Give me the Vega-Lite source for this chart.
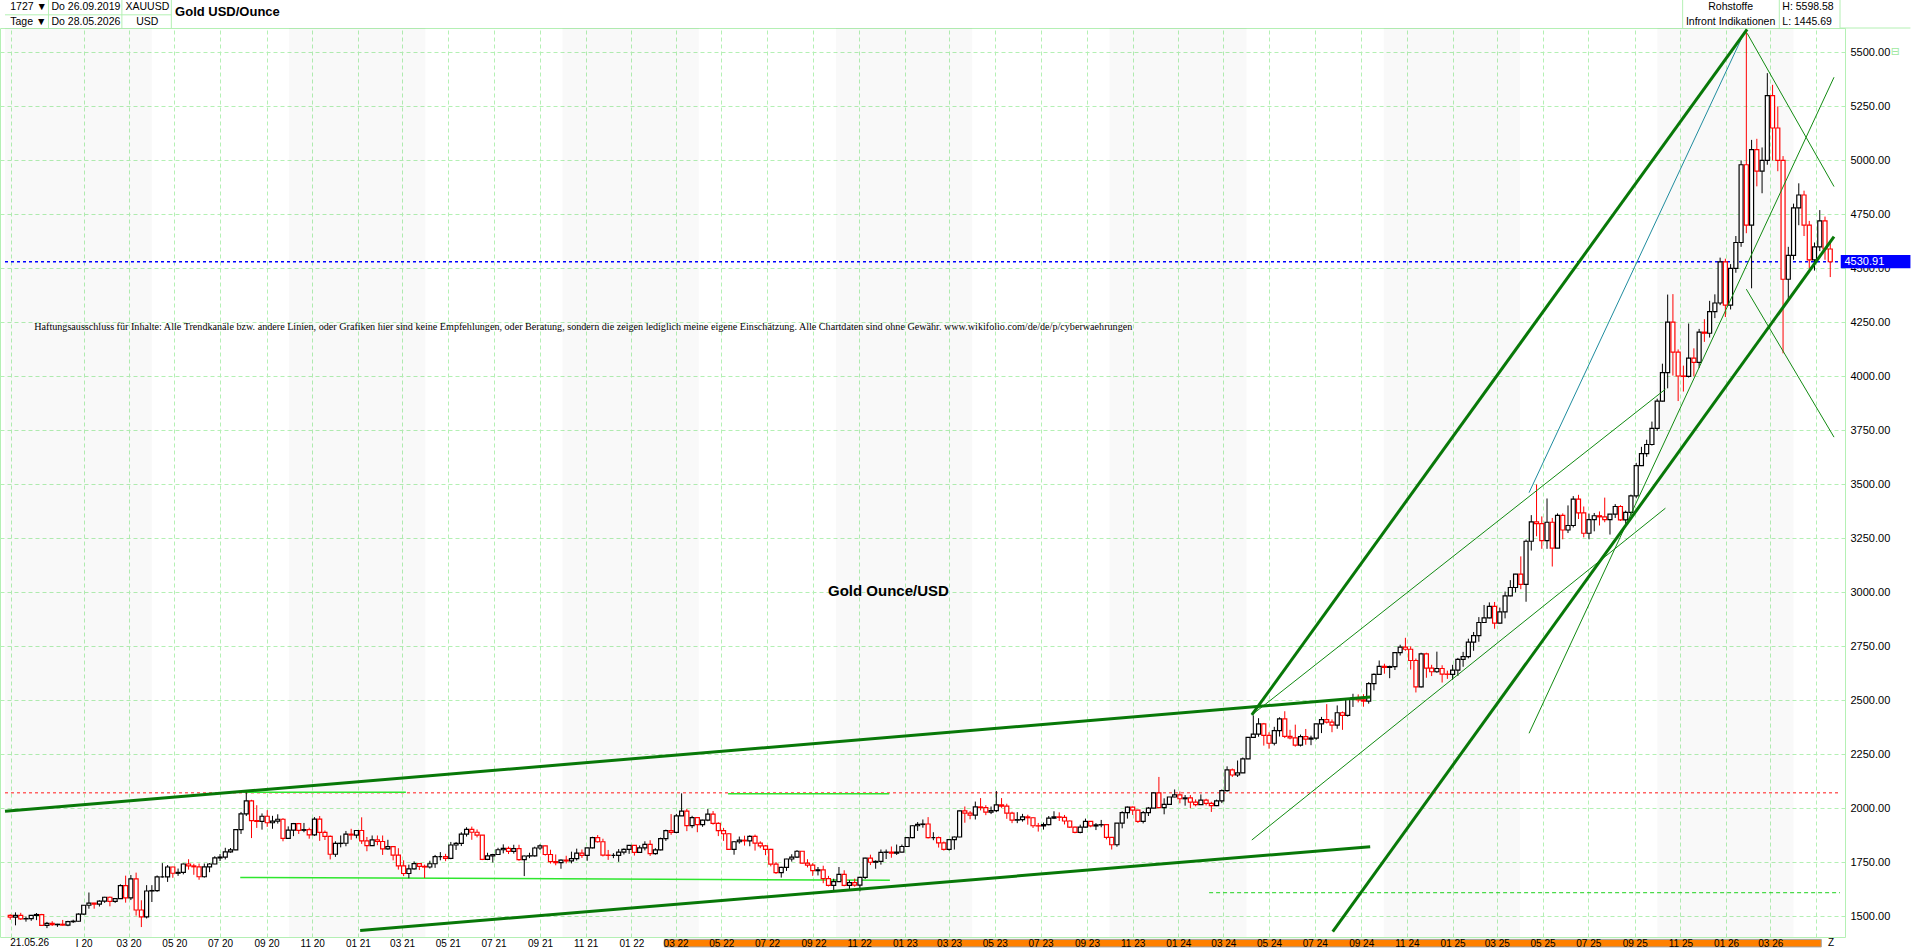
{
"$schema": "https://vega.github.io/schema/vega-lite/v6.json",
"width": 1845, "height": 909,
"autosize": {"type": "none"},
"padding": {"left": 0, "top": 28, "right": 71, "bottom": 11},
"background": "#ffffff",
"config": {"view": {"stroke": "#b4f0b4", "strokeWidth": 1}, "axis": {"labelFont": "Liberation Sans", "labelColor": "#000000"}},
"resolve": {"axis": {"x": "independent", "y": "independent"}},
"datasets": {
"bands": [
{"d":"2019-09-18","d2":"2020-04-01"},{"d":"2020-10-01","d2":"2021-04-01"},{"d":"2021-10-01","d2":"2022-04-01"},{"d":"2022-10-01","d2":"2023-04-01"},{"d":"2023-10-01","d2":"2024-04-01"},{"d":"2024-10-01","d2":"2025-04-01"},{"d":"2025-10-01","d2":"2026-04-01"}],
"strip": [{"d":"2022-02-14","d2":"2026-05-08","p":1394,"p2":1359}],
"box": [{"d":"2026-06-03","d2":"2026-09-04","p":4562,"p2":4501}],
"hr": [
{"d":"2019-11-15","d2":"2019-11-15","p":5743,"p2":5613},{"d":"2020-02-21","d2":"2020-02-21","p":5743,"p2":5613},{"d":"2020-04-27","d2":"2020-04-27","p":5743,"p2":5613},{"d":"2025-11-04","d2":"2025-11-04","p":5743,"p2":5613},{"d":"2026-03-13","d2":"2026-03-13","p":5743,"p2":5613},{"d":"2026-06-02","d2":"2026-06-02","p":5743,"p2":5613},{"d":"2019-09-18","d2":"2020-04-27","p":5674,"p2":5674},{"d":"2026-06-02","d2":"2026-09-04","p":5613,"p2":5613}],
"lines": [
{"g":"A","t":"thick","d":"2019-09-18","p":1987},{"g":"A","t":"thick","d":"2024-09-13","p":2516},
{"g":"B","t":"thick","d":"2021-01-04","p":1435},{"g":"B","t":"thick","d":"2024-09-13","p":1823},
{"g":"C","t":"thick","d":"2024-04-08","p":2433},{"g":"C","t":"thick","d":"2026-01-29","p":5607},
{"g":"H","t":"thick","d":"2024-07-25","p":1430},{"g":"H","t":"thick","d":"2026-05-25","p":4647},
{"g":"D","t":"teal","d":"2025-04-13","p":3462},{"g":"D","t":"teal","d":"2026-01-25","p":5590},
{"g":"E","t":"thin","d":"2024-04-08","p":2433},{"g":"E","t":"thin","d":"2025-10-12","p":3941},
{"g":"F","t":"thin","d":"2024-04-08","p":1854},{"g":"F","t":"thin","d":"2025-10-12","p":3390},
{"g":"G","t":"thin","d":"2025-04-13","p":2348},{"g":"G","t":"thin","d":"2026-05-25","p":5385},
{"g":"I","t":"thin","d":"2026-01-29","p":5589},{"g":"I","t":"thin","d":"2026-05-25","p":4879},
{"g":"J","t":"thin","d":"2026-01-28","p":4404},{"g":"J","t":"thin","d":"2026-05-25","p":3719},
{"g":"L1","t":"lime","d":"2020-08-01","p":2075},{"g":"L1","t":"lime","d":"2021-03-06","p":2075},
{"g":"L2","t":"lime","d":"2022-05-10","p":2068},{"g":"L2","t":"lime","d":"2022-12-11","p":2068},
{"g":"L3","t":"lime","d":"2020-07-28","p":1681},{"g":"L3","t":"lime","d":"2022-12-12","p":1668},
{"g":"R","t":"reddot","d":"2019-09-18","p":2073},{"g":"R","t":"reddot","d":"2026-06-02","p":2073},
{"g":"BL","t":"bluedot","d":"2019-09-18","p":4530.91},{"g":"BL","t":"bluedot","d":"2026-06-02","p":4530.91},
{"g":"LD","t":"limedash","d":"2024-02-11","p":1610},{"g":"LD","t":"limedash","d":"2026-06-02","p":1610}],
"notes": [
{"k":"hl","d":"2019-09-25","p":5712,"txt":"1727 ▼"},
{"k":"hl","d":"2019-09-25","p":5643,"txt":"Tage ▼"},
{"k":"hl","d":"2019-11-19","p":5712,"txt":"Do 26.09.2019"},
{"k":"hl","d":"2019-11-19","p":5643,"txt":"Do 28.05.2026"},
{"k":"hc","d":"2020-03-26","p":5712,"txt":"XAUUSD"},
{"k":"hc","d":"2020-03-26","p":5643,"txt":"USD"},
{"k":"ht","d":"2020-05-02","p":5689,"txt":"Gold USD/Ounce"},
{"k":"hc","d":"2026-01-07","p":5712,"txt":"Rohstoffe"},
{"k":"hc","d":"2026-01-07","p":5643,"txt":"Infront Indikationen"},
{"k":"hl","d":"2026-03-17","p":5712,"txt":"H: 5598.58"},
{"k":"hl","d":"2026-03-17","p":5643,"txt":"L: 1445.69"},
{"k":"disc","d":"2019-10-27","p":4227,"txt":"Haftungsausschluss für Inhalte: Alle Trendkanäle bzw. andere Linien, oder Grafiken hier sind keine Empfehlungen, oder Beratung, sondern die zeigen lediglich meine eigene Einschätzung. Alle Chartdaten sind ohne Gewähr.  www.wikifolio.com/de/de/p/cyberwaehrungen"},
{"k":"big","d":"2022-12-10","p":3005,"txt":"Gold Ounce/USD"},
{"k":"ax","d":"2019-10-21","p":1377,"txt":"21.05.26"},
{"k":"ax","d":"2026-05-21","p":1377,"txt":"Z"},
{"k":"icon","d":"2026-08-15","p":5502,"txt":"⊟"},
{"k":"blue","d":"2026-06-08","p":4531,"txt":"4530.91"}],
"candles": [
{"d":"2019-09-25","o":1505,"h":1510,"l":1485,"c":1497},{"d":"2019-10-02","o":1497,"h":1519,"l":1459,"c":1505},{"d":"2019-10-09","o":1505,"h":1517,"l":1484,"c":1489},{"d":"2019-10-16","o":1489,"h":1500,"l":1476,"c":1490},{"d":"2019-10-23","o":1490,"h":1507,"l":1480,"c":1505},{"d":"2019-10-30","o":1505,"h":1516,"l":1483,"c":1509},{"d":"2019-11-06","o":1509,"h":1512,"l":1456,"c":1459},{"d":"2019-11-13","o":1459,"h":1475,"l":1446,"c":1468},{"d":"2019-11-20","o":1468,"h":1478,"l":1456,"c":1462},{"d":"2019-11-27","o":1462,"h":1466,"l":1452,"c":1464},{"d":"2019-12-04","o":1464,"h":1484,"l":1458,"c":1460},{"d":"2019-12-11","o":1460,"h":1480,"l":1455,"c":1476},{"d":"2019-12-18","o":1476,"h":1485,"l":1470,"c":1478},{"d":"2019-12-25","o":1478,"h":1515,"l":1477,"c":1511},
{"d":"2020-01-01","o":1511,"h":1553,"l":1508,"c":1552},{"d":"2020-01-08","o":1552,"h":1611,"l":1536,"c":1562},{"d":"2020-01-15","o":1562,"h":1563,"l":1536,"c":1557},{"d":"2020-01-22","o":1557,"h":1575,"l":1546,"c":1571},{"d":"2020-01-29","o":1571,"h":1591,"l":1563,"c":1589},{"d":"2020-02-05","o":1589,"h":1592,"l":1547,"c":1570},{"d":"2020-02-12","o":1570,"h":1583,"l":1563,"c":1583},{"d":"2020-02-19","o":1583,"h":1649,"l":1581,"c":1643},{"d":"2020-02-26","o":1643,"h":1689,"l":1564,"c":1586},{"d":"2020-03-04","o":1586,"h":1692,"l":1576,"c":1674},{"d":"2020-03-11","o":1674,"h":1703,"l":1504,"c":1530},{"d":"2020-03-18","o":1530,"h":1575,"l":1451,"c":1498},{"d":"2020-03-25","o":1498,"h":1645,"l":1491,"c":1618},{"d":"2020-04-01","o":1618,"h":1645,"l":1567,"c":1620},{"d":"2020-04-08","o":1620,"h":1690,"l":1614,"c":1683},{"d":"2020-04-15","o":1683,"h":1747,"l":1680,"c":1683},{"d":"2020-04-22","o":1683,"h":1738,"l":1660,"c":1729},{"d":"2020-04-29","o":1729,"h":1730,"l":1679,"c":1700},{"d":"2020-05-06","o":1700,"h":1722,"l":1688,"c":1704},{"d":"2020-05-13","o":1704,"h":1745,"l":1695,"c":1743},{"d":"2020-05-20","o":1743,"h":1765,"l":1717,"c":1734},{"d":"2020-05-27","o":1734,"h":1744,"l":1693,"c":1730},{"d":"2020-06-03","o":1730,"h":1745,"l":1670,"c":1684},{"d":"2020-06-10","o":1684,"h":1745,"l":1680,"c":1730},{"d":"2020-06-17","o":1730,"h":1747,"l":1705,"c":1743},{"d":"2020-06-24","o":1743,"h":1779,"l":1742,"c":1771},{"d":"2020-07-01","o":1771,"h":1789,"l":1757,"c":1775},{"d":"2020-07-08","o":1775,"h":1818,"l":1764,"c":1799},{"d":"2020-07-15","o":1799,"h":1817,"l":1795,"c":1808},{"d":"2020-07-22","o":1808,"h":1904,"l":1807,"c":1902},{"d":"2020-07-29","o":1902,"h":1984,"l":1882,"c":1975},{"d":"2020-08-05","o":1975,"h":2075,"l":1965,"c":2035},{"d":"2020-08-12","o":2035,"h":2040,"l":1863,"c":1944},{"d":"2020-08-19","o":1944,"h":2015,"l":1910,"c":1940},{"d":"2020-08-26","o":1940,"h":1977,"l":1902,"c":1964},{"d":"2020-09-02","o":1964,"h":1992,"l":1915,"c":1934},{"d":"2020-09-09","o":1934,"h":1966,"l":1906,"c":1941},{"d":"2020-09-16","o":1941,"h":1973,"l":1930,"c":1950},{"d":"2020-09-23","o":1950,"h":1955,"l":1848,"c":1862},{"d":"2020-09-30","o":1862,"h":1917,"l":1860,"c":1900},{"d":"2020-10-07","o":1900,"h":1933,"l":1872,"c":1930},{"d":"2020-10-14","o":1930,"h":1933,"l":1882,"c":1899},{"d":"2020-10-21","o":1899,"h":1933,"l":1890,"c":1902},{"d":"2020-10-28","o":1902,"h":1911,"l":1860,"c":1878},{"d":"2020-11-04","o":1878,"h":1960,"l":1873,"c":1951},{"d":"2020-11-11","o":1951,"h":1965,"l":1850,"c":1889},{"d":"2020-11-18","o":1889,"h":1898,"l":1854,"c":1871},{"d":"2020-11-25","o":1871,"h":1875,"l":1764,"c":1788},{"d":"2020-12-02","o":1788,"h":1848,"l":1776,"c":1838},{"d":"2020-12-09","o":1838,"h":1875,"l":1820,"c":1839},{"d":"2020-12-16","o":1839,"h":1896,"l":1825,"c":1881},{"d":"2020-12-23","o":1881,"h":1906,"l":1855,"c":1877},{"d":"2020-12-30","o":1877,"h":1900,"l":1862,"c":1898},
{"d":"2021-01-06","o":1898,"h":1959,"l":1836,"c":1850},{"d":"2021-01-13","o":1850,"h":1868,"l":1802,"c":1828},{"d":"2021-01-20","o":1828,"h":1875,"l":1826,"c":1855},{"d":"2021-01-27","o":1855,"h":1875,"l":1830,"c":1847},{"d":"2021-02-03","o":1847,"h":1875,"l":1785,"c":1813},{"d":"2021-02-10","o":1813,"h":1855,"l":1809,"c":1823},{"d":"2021-02-17","o":1823,"h":1825,"l":1760,"c":1784},{"d":"2021-02-24","o":1784,"h":1816,"l":1717,"c":1734},{"d":"2021-03-03","o":1734,"h":1760,"l":1687,"c":1699},{"d":"2021-03-10","o":1699,"h":1740,"l":1677,"c":1720},{"d":"2021-03-17","o":1720,"h":1755,"l":1717,"c":1745},{"d":"2021-03-24","o":1745,"h":1745,"l":1715,"c":1732},{"d":"2021-03-31","o":1732,"h":1740,"l":1678,"c":1729},{"d":"2021-04-07","o":1729,"h":1758,"l":1722,"c":1744},{"d":"2021-04-14","o":1744,"h":1785,"l":1725,"c":1777},{"d":"2021-04-21","o":1777,"h":1798,"l":1760,"c":1777},{"d":"2021-04-28","o":1777,"h":1790,"l":1756,"c":1769},{"d":"2021-05-05","o":1769,"h":1845,"l":1765,"c":1831},{"d":"2021-05-12","o":1831,"h":1845,"l":1808,"c":1838},{"d":"2021-05-19","o":1838,"h":1890,"l":1826,"c":1881},{"d":"2021-05-26","o":1881,"h":1913,"l":1870,"c":1903},{"d":"2021-06-02","o":1903,"h":1916,"l":1855,"c":1890},{"d":"2021-06-09","o":1890,"h":1903,"l":1866,"c":1877},{"d":"2021-06-16","o":1877,"h":1877,"l":1761,"c":1764},{"d":"2021-06-23","o":1764,"h":1795,"l":1761,"c":1781},{"d":"2021-06-30","o":1781,"h":1790,"l":1750,"c":1787},{"d":"2021-07-07","o":1787,"h":1818,"l":1785,"c":1809},{"d":"2021-07-14","o":1809,"h":1834,"l":1792,"c":1815},{"d":"2021-07-21","o":1815,"h":1824,"l":1789,"c":1801},{"d":"2021-07-28","o":1801,"h":1832,"l":1791,"c":1814},{"d":"2021-08-04","o":1814,"h":1832,"l":1758,"c":1763},{"d":"2021-08-11","o":1763,"h":1782,"l":1687,"c":1780},{"d":"2021-08-18","o":1780,"h":1795,"l":1770,"c":1781},{"d":"2021-08-25","o":1781,"h":1823,"l":1777,"c":1817},{"d":"2021-09-01","o":1817,"h":1834,"l":1808,"c":1827},{"d":"2021-09-08","o":1827,"h":1828,"l":1782,"c":1787},{"d":"2021-09-15","o":1787,"h":1809,"l":1745,"c":1754},{"d":"2021-09-22","o":1754,"h":1787,"l":1737,"c":1749},{"d":"2021-09-29","o":1749,"h":1764,"l":1721,"c":1761},{"d":"2021-10-06","o":1761,"h":1781,"l":1746,"c":1757},{"d":"2021-10-13","o":1757,"h":1800,"l":1746,"c":1768},{"d":"2021-10-20","o":1768,"h":1814,"l":1759,"c":1793},{"d":"2021-10-27","o":1793,"h":1810,"l":1771,"c":1783},{"d":"2021-11-03","o":1783,"h":1818,"l":1758,"c":1818},{"d":"2021-11-10","o":1818,"h":1869,"l":1815,"c":1865},{"d":"2021-11-17","o":1865,"h":1877,"l":1842,"c":1846},{"d":"2021-11-24","o":1846,"h":1860,"l":1778,"c":1784},{"d":"2021-12-01","o":1784,"h":1808,"l":1762,"c":1783},{"d":"2021-12-08","o":1783,"h":1793,"l":1770,"c":1783},{"d":"2021-12-15","o":1783,"h":1812,"l":1753,"c":1798},{"d":"2021-12-22","o":1798,"h":1815,"l":1787,"c":1811},{"d":"2021-12-29","o":1811,"h":1831,"l":1790,"c":1829},
{"d":"2022-01-05","o":1829,"h":1831,"l":1782,"c":1797},{"d":"2022-01-12","o":1797,"h":1829,"l":1795,"c":1818},{"d":"2022-01-19","o":1818,"h":1848,"l":1806,"c":1834},{"d":"2022-01-26","o":1834,"h":1853,"l":1780,"c":1791},{"d":"2022-02-02","o":1791,"h":1816,"l":1786,"c":1808},{"d":"2022-02-09","o":1808,"h":1865,"l":1806,"c":1860},{"d":"2022-02-16","o":1860,"h":1902,"l":1850,"c":1897},{"d":"2022-02-23","o":1897,"h":1974,"l":1878,"c":1889},{"d":"2022-03-02","o":1889,"h":1975,"l":1885,"c":1966},{"d":"2022-03-09","o":1966,"h":2070,"l":1965,"c":1988},{"d":"2022-03-16","o":1988,"h":1998,"l":1895,"c":1921},{"d":"2022-03-23","o":1921,"h":1966,"l":1909,"c":1958},{"d":"2022-03-30","o":1958,"h":1960,"l":1890,"c":1925},{"d":"2022-04-06","o":1925,"h":1948,"l":1915,"c":1946},{"d":"2022-04-13","o":1946,"h":1998,"l":1941,"c":1974},{"d":"2022-04-20","o":1974,"h":1988,"l":1925,"c":1931},{"d":"2022-04-27","o":1931,"h":1936,"l":1872,"c":1897},{"d":"2022-05-04","o":1897,"h":1910,"l":1850,"c":1883},{"d":"2022-05-11","o":1883,"h":1885,"l":1808,"c":1811},{"d":"2022-05-18","o":1811,"h":1849,"l":1786,"c":1846},{"d":"2022-05-25","o":1846,"h":1870,"l":1837,"c":1853},{"d":"2022-06-01","o":1853,"h":1874,"l":1828,"c":1850},{"d":"2022-06-08","o":1850,"h":1876,"l":1825,"c":1871},{"d":"2022-06-15","o":1871,"h":1879,"l":1805,"c":1840},{"d":"2022-06-22","o":1840,"h":1848,"l":1816,"c":1827},{"d":"2022-06-29","o":1827,"h":1831,"l":1784,"c":1811},{"d":"2022-07-06","o":1811,"h":1813,"l":1732,"c":1742},{"d":"2022-07-13","o":1742,"h":1752,"l":1697,"c":1703},{"d":"2022-07-20","o":1703,"h":1730,"l":1680,"c":1727},{"d":"2022-07-27","o":1727,"h":1767,"l":1711,"c":1766},{"d":"2022-08-03","o":1766,"h":1788,"l":1754,"c":1775},{"d":"2022-08-10","o":1775,"h":1807,"l":1771,"c":1802},{"d":"2022-08-17","o":1802,"h":1802,"l":1745,"c":1747},{"d":"2022-08-24","o":1747,"h":1765,"l":1727,"c":1738},{"d":"2022-08-31","o":1738,"h":1747,"l":1688,"c":1712},{"d":"2022-09-07","o":1712,"h":1729,"l":1690,"c":1716},{"d":"2022-09-14","o":1716,"h":1735,"l":1654,"c":1675},{"d":"2022-09-21","o":1675,"h":1688,"l":1639,"c":1644},{"d":"2022-09-28","o":1644,"h":1675,"l":1615,"c":1661},{"d":"2022-10-05","o":1661,"h":1729,"l":1660,"c":1695},{"d":"2022-10-12","o":1695,"h":1714,"l":1640,"c":1644},{"d":"2022-10-19","o":1644,"h":1668,"l":1618,"c":1657},{"d":"2022-10-26","o":1657,"h":1675,"l":1638,"c":1645},{"d":"2022-11-02","o":1645,"h":1684,"l":1616,"c":1681},{"d":"2022-11-09","o":1681,"h":1772,"l":1673,"c":1770},{"d":"2022-11-16","o":1770,"h":1786,"l":1738,"c":1751},{"d":"2022-11-23","o":1751,"h":1760,"l":1721,"c":1755},{"d":"2022-11-30","o":1755,"h":1810,"l":1740,"c":1797},{"d":"2022-12-07","o":1797,"h":1810,"l":1766,"c":1798},{"d":"2022-12-14","o":1798,"h":1824,"l":1772,"c":1793},{"d":"2022-12-21","o":1793,"h":1833,"l":1785,"c":1798},{"d":"2022-12-28","o":1798,"h":1833,"l":1797,"c":1824},
{"d":"2023-01-04","o":1824,"h":1868,"l":1822,"c":1865},{"d":"2023-01-11","o":1865,"h":1922,"l":1862,"c":1920},{"d":"2023-01-18","o":1920,"h":1937,"l":1896,"c":1926},{"d":"2023-01-25","o":1926,"h":1949,"l":1911,"c":1928},{"d":"2023-02-01","o":1928,"h":1960,"l":1861,"c":1865},{"d":"2023-02-08","o":1865,"h":1890,"l":1853,"c":1865},{"d":"2023-02-15","o":1865,"h":1870,"l":1819,"c":1841},{"d":"2023-02-22","o":1841,"h":1847,"l":1805,"c":1811},{"d":"2023-03-01","o":1811,"h":1858,"l":1805,"c":1856},{"d":"2023-03-08","o":1856,"h":1870,"l":1810,"c":1868},{"d":"2023-03-15","o":1868,"h":1990,"l":1867,"c":1989},{"d":"2023-03-22","o":1989,"h":2009,"l":1934,"c":1978},{"d":"2023-03-29","o":1978,"h":1988,"l":1950,"c":1969},{"d":"2023-04-05","o":1969,"h":2032,"l":1949,"c":2007},{"d":"2023-04-12","o":2007,"h":2048,"l":1991,"c":2004},{"d":"2023-04-19","o":2004,"h":2015,"l":1969,"c":1983},{"d":"2023-04-26","o":1983,"h":2009,"l":1974,"c":1990},{"d":"2023-05-03","o":1990,"h":2081,"l":1983,"c":2017},{"d":"2023-05-10","o":2017,"h":2048,"l":2003,"c":2011},{"d":"2023-05-17","o":2011,"h":2022,"l":1952,"c":1978},{"d":"2023-05-24","o":1978,"h":1985,"l":1932,"c":1946},{"d":"2023-05-31","o":1946,"h":1983,"l":1932,"c":1948},{"d":"2023-06-07","o":1948,"h":1975,"l":1939,"c":1961},{"d":"2023-06-14","o":1961,"h":1971,"l":1925,"c":1957},{"d":"2023-06-21","o":1957,"h":1959,"l":1910,"c":1920},{"d":"2023-06-28","o":1920,"h":1933,"l":1893,"c":1919},{"d":"2023-07-05","o":1919,"h":1935,"l":1902,"c":1925},{"d":"2023-07-12","o":1925,"h":1965,"l":1922,"c":1955},{"d":"2023-07-19","o":1955,"h":1987,"l":1951,"c":1961},{"d":"2023-07-26","o":1961,"h":1982,"l":1942,"c":1959},{"d":"2023-08-02","o":1959,"h":1970,"l":1926,"c":1942},{"d":"2023-08-09","o":1942,"h":1944,"l":1910,"c":1914},{"d":"2023-08-16","o":1914,"h":1916,"l":1885,"c":1889},{"d":"2023-08-23","o":1889,"h":1925,"l":1885,"c":1914},{"d":"2023-08-30","o":1914,"h":1953,"l":1912,"c":1940},{"d":"2023-09-06","o":1940,"h":1942,"l":1913,"c":1919},{"d":"2023-09-13","o":1919,"h":1932,"l":1900,"c":1924},{"d":"2023-09-20","o":1924,"h":1947,"l":1913,"c":1925},{"d":"2023-09-27","o":1925,"h":1927,"l":1857,"c":1866},{"d":"2023-10-04","o":1866,"h":1866,"l":1810,"c":1832},{"d":"2023-10-11","o":1832,"h":1932,"l":1823,"c":1932},{"d":"2023-10-18","o":1932,"h":1987,"l":1908,"c":1981},{"d":"2023-10-25","o":1981,"h":2009,"l":1953,"c":2006},{"d":"2023-11-01","o":2006,"h":2009,"l":1970,"c":1992},{"d":"2023-11-08","o":1992,"h":1994,"l":1933,"c":1940},{"d":"2023-11-15","o":1940,"h":1988,"l":1931,"c":1981},{"d":"2023-11-22","o":1981,"h":2007,"l":1965,"c":2002},{"d":"2023-11-29","o":2002,"h":2075,"l":2001,"c":2072},{"d":"2023-12-06","o":2072,"h":2146,"l":2010,"c":2004},{"d":"2023-12-13","o":2004,"h":2047,"l":1973,"c":2019},{"d":"2023-12-20","o":2019,"h":2047,"l":2016,"c":2053},{"d":"2023-12-27","o":2053,"h":2088,"l":2052,"c":2063},
{"d":"2024-01-03","o":2063,"h":2078,"l":2024,"c":2045},{"d":"2024-01-10","o":2045,"h":2062,"l":2013,"c":2049},{"d":"2024-01-17","o":2049,"h":2062,"l":2001,"c":2029},{"d":"2024-01-24","o":2029,"h":2042,"l":2010,"c":2018},{"d":"2024-01-31","o":2018,"h":2065,"l":2016,"c":2039},{"d":"2024-02-07","o":2039,"h":2045,"l":2014,"c":2024},{"d":"2024-02-14","o":2024,"h":2031,"l":1984,"c":2013},{"d":"2024-02-21","o":2013,"h":2041,"l":2011,"c":2035},{"d":"2024-02-28","o":2035,"h":2088,"l":2025,"c":2083},{"d":"2024-03-06","o":2083,"h":2195,"l":2078,"c":2179},{"d":"2024-03-13","o":2179,"h":2185,"l":2146,"c":2155},{"d":"2024-03-20","o":2155,"h":2222,"l":2146,"c":2165},{"d":"2024-03-27","o":2165,"h":2236,"l":2164,"c":2230},{"d":"2024-04-03","o":2230,"h":2330,"l":2228,"c":2329},{"d":"2024-04-10","o":2329,"h":2431,"l":2326,"c":2344},{"d":"2024-04-17","o":2344,"h":2418,"l":2332,"c":2392},{"d":"2024-04-24","o":2392,"h":2396,"l":2291,"c":2338},{"d":"2024-05-01","o":2338,"h":2353,"l":2277,"c":2302},{"d":"2024-05-08","o":2302,"h":2378,"l":2292,"c":2360},{"d":"2024-05-15","o":2360,"h":2422,"l":2333,"c":2415},{"d":"2024-05-22","o":2415,"h":2450,"l":2326,"c":2334},{"d":"2024-05-29","o":2334,"h":2364,"l":2320,"c":2327},{"d":"2024-06-05","o":2327,"h":2388,"l":2286,"c":2293},{"d":"2024-06-12","o":2293,"h":2342,"l":2287,"c":2333},{"d":"2024-06-19","o":2333,"h":2368,"l":2295,"c":2321},{"d":"2024-06-26","o":2321,"h":2337,"l":2293,"c":2326},{"d":"2024-07-03","o":2326,"h":2393,"l":2318,"c":2392},{"d":"2024-07-10","o":2392,"h":2424,"l":2349,"c":2411},{"d":"2024-07-17","o":2411,"h":2483,"l":2393,"c":2400},{"d":"2024-07-24","o":2400,"h":2412,"l":2353,"c":2386},{"d":"2024-07-31","o":2386,"h":2477,"l":2369,"c":2443},{"d":"2024-08-07","o":2443,"h":2449,"l":2364,"c":2431},{"d":"2024-08-14","o":2431,"h":2509,"l":2425,"c":2507},{"d":"2024-08-21","o":2507,"h":2531,"l":2470,"c":2512},{"d":"2024-08-28","o":2512,"h":2528,"l":2491,"c":2503},{"d":"2024-09-04","o":2503,"h":2529,"l":2471,"c":2497},{"d":"2024-09-11","o":2497,"h":2585,"l":2485,"c":2578},{"d":"2024-09-18","o":2578,"h":2625,"l":2547,"c":2621},{"d":"2024-09-25","o":2621,"h":2685,"l":2618,"c":2658},{"d":"2024-10-02","o":2658,"h":2670,"l":2624,"c":2653},{"d":"2024-10-09","o":2653,"h":2661,"l":2603,"c":2657},{"d":"2024-10-16","o":2657,"h":2722,"l":2641,"c":2721},{"d":"2024-10-23","o":2721,"h":2758,"l":2708,"c":2747},{"d":"2024-10-30","o":2747,"h":2790,"l":2730,"c":2737},{"d":"2024-11-06","o":2737,"h":2750,"l":2643,"c":2685},{"d":"2024-11-13","o":2685,"h":2694,"l":2537,"c":2563},{"d":"2024-11-20","o":2563,"h":2721,"l":2560,"c":2716},{"d":"2024-11-27","o":2716,"h":2721,"l":2605,"c":2650},{"d":"2024-12-04","o":2650,"h":2665,"l":2613,"c":2633},{"d":"2024-12-11","o":2633,"h":2726,"l":2628,"c":2648},{"d":"2024-12-18","o":2648,"h":2663,"l":2583,"c":2622},{"d":"2024-12-25","o":2622,"h":2638,"l":2600,"c":2621},
{"d":"2025-01-01","o":2621,"h":2665,"l":2596,"c":2640},{"d":"2025-01-08","o":2640,"h":2697,"l":2614,"c":2690},{"d":"2025-01-15","o":2690,"h":2725,"l":2656,"c":2703},{"d":"2025-01-22","o":2703,"h":2786,"l":2695,"c":2770},{"d":"2025-01-29","o":2770,"h":2817,"l":2730,"c":2800},{"d":"2025-02-05","o":2800,"h":2886,"l":2772,"c":2861},{"d":"2025-02-12","o":2861,"h":2942,"l":2860,"c":2882},{"d":"2025-02-19","o":2882,"h":2954,"l":2880,"c":2936},{"d":"2025-02-26","o":2936,"h":2956,"l":2832,"c":2858},{"d":"2025-03-05","o":2858,"h":2930,"l":2856,"c":2910},{"d":"2025-03-12","o":2910,"h":3004,"l":2880,"c":2984},{"d":"2025-03-19","o":2984,"h":3057,"l":2982,"c":3023},{"d":"2025-03-26","o":3023,"h":3086,"l":3000,"c":3085},{"d":"2025-04-02","o":3085,"h":3167,"l":3015,"c":3037},{"d":"2025-04-09","o":3037,"h":3245,"l":2957,"c":3237},{"d":"2025-04-16","o":3237,"h":3358,"l":3194,"c":3327},{"d":"2025-04-23","o":3327,"h":3500,"l":3260,"c":3319},{"d":"2025-04-30","o":3319,"h":3352,"l":3202,"c":3240},{"d":"2025-05-07","o":3240,"h":3435,"l":3202,"c":3325},{"d":"2025-05-14","o":3325,"h":3345,"l":3120,"c":3205},{"d":"2025-05-21","o":3205,"h":3366,"l":3205,"c":3357},{"d":"2025-05-28","o":3357,"h":3366,"l":3246,"c":3289},{"d":"2025-06-04","o":3289,"h":3403,"l":3275,"c":3310},{"d":"2025-06-11","o":3310,"h":3446,"l":3301,"c":3432},{"d":"2025-06-18","o":3432,"h":3452,"l":3340,"c":3368},{"d":"2025-06-25","o":3368,"h":3398,"l":3255,"c":3274},{"d":"2025-07-02","o":3274,"h":3365,"l":3246,"c":3337},{"d":"2025-07-09","o":3337,"h":3368,"l":3283,"c":3355},{"d":"2025-07-16","o":3355,"h":3375,"l":3310,"c":3350},{"d":"2025-07-23","o":3350,"h":3439,"l":3325,"c":3337},{"d":"2025-07-30","o":3337,"h":3363,"l":3268,"c":3363},{"d":"2025-08-06","o":3363,"h":3409,"l":3345,"c":3398},{"d":"2025-08-13","o":3398,"h":3404,"l":3331,"c":3336},{"d":"2025-08-20","o":3336,"h":3379,"l":3311,"c":3371},{"d":"2025-08-27","o":3371,"h":3453,"l":3356,"c":3447},{"d":"2025-09-03","o":3447,"h":3600,"l":3436,"c":3587},{"d":"2025-09-10","o":3587,"h":3674,"l":3585,"c":3643},{"d":"2025-09-17","o":3643,"h":3707,"l":3628,"c":3685},{"d":"2025-09-24","o":3685,"h":3791,"l":3680,"c":3760},{"d":"2025-10-01","o":3760,"h":3897,"l":3748,"c":3886},{"d":"2025-10-08","o":3886,"h":4059,"l":3884,"c":4018},{"d":"2025-10-15","o":4018,"h":4379,"l":3945,"c":4251},{"d":"2025-10-22","o":4251,"h":4381,"l":4004,"c":4113},{"d":"2025-10-29","o":4113,"h":4125,"l":3886,"c":4002},{"d":"2025-11-05","o":4002,"h":4050,"l":3930,"c":4000},{"d":"2025-11-12","o":4000,"h":4245,"l":3995,"c":4085},{"d":"2025-11-19","o":4085,"h":4130,"l":4000,"c":4065},{"d":"2025-11-26","o":4065,"h":4220,"l":4040,"c":4205},{"d":"2025-12-03","o":4205,"h":4265,"l":4160,"c":4200},{"d":"2025-12-10","o":4200,"h":4350,"l":4180,"c":4300},{"d":"2025-12-17","o":4300,"h":4380,"l":4270,"c":4340},{"d":"2025-12-24","o":4340,"h":4550,"l":4330,"c":4530},{"d":"2025-12-31","o":4530,"h":4545,"l":4275,"c":4330},
{"d":"2026-01-07","o":4330,"h":4520,"l":4310,"c":4500},{"d":"2026-01-14","o":4500,"h":4650,"l":4480,"c":4620},{"d":"2026-01-21","o":4620,"h":5000,"l":4600,"c":4980},{"d":"2026-01-28","o":4980,"h":5598,"l":4663,"c":4700},{"d":"2026-02-04","o":4700,"h":5095,"l":4408,"c":5050},{"d":"2026-02-11","o":5050,"h":5100,"l":4880,"c":4950},{"d":"2026-02-18","o":4950,"h":5060,"l":4848,"c":5000},{"d":"2026-02-25","o":5000,"h":5404,"l":4980,"c":5300},{"d":"2026-03-04","o":5300,"h":5350,"l":5000,"c":5150},{"d":"2026-03-11","o":5150,"h":5250,"l":4950,"c":5000},{"d":"2026-03-18","o":5000,"h":5020,"l":4107,"c":4450},{"d":"2026-03-25","o":4450,"h":4600,"l":4350,"c":4560},{"d":"2026-04-01","o":4560,"h":4800,"l":4540,"c":4780},{"d":"2026-04-08","o":4780,"h":4894,"l":4700,"c":4840},{"d":"2026-04-15","o":4840,"h":4860,"l":4650,"c":4700},{"d":"2026-04-22","o":4700,"h":4720,"l":4500,"c":4540},{"d":"2026-04-29","o":4540,"h":4620,"l":4490,"c":4600},{"d":"2026-05-06","o":4600,"h":4770,"l":4580,"c":4720},{"d":"2026-05-13","o":4720,"h":4740,"l":4540,"c":4590},{"d":"2026-05-20","o":4590,"h":4620,"l":4460,"c":4531}]
},
"layer": [
{"data": {"name": "bands"}, "mark": {"type": "rect", "fill": "#000000", "opacity": 0.022},
 "encoding": {"x": {"field": "d", "type": "temporal", "scale": {"type": "utc", "domain": [{"year":2019,"month":9,"date":18,"utc":true},{"year":2026,"month":6,"date":2,"utc":true}]},
   "axis": {"orient": "bottom", "grid": true, "gridColor": "#b4f0b4", "gridDash": [4,3], "gridWidth": 1, "labels": false, "ticks": false, "domain": false, "title": null, "zindex": 0,
   "values": [{"year":2019,"month":9,"date":26,"utc":true},{"year":2020,"month":1,"date":1,"utc":true},{"year":2020,"month":3,"date":1,"utc":true},{"year":2020,"month":5,"date":1,"utc":true},{"year":2020,"month":7,"date":1,"utc":true},{"year":2020,"month":9,"date":1,"utc":true},{"year":2020,"month":11,"date":1,"utc":true},{"year":2021,"month":1,"date":1,"utc":true},{"year":2021,"month":3,"date":1,"utc":true},{"year":2021,"month":5,"date":1,"utc":true},{"year":2021,"month":7,"date":1,"utc":true},{"year":2021,"month":9,"date":1,"utc":true},{"year":2021,"month":11,"date":1,"utc":true},{"year":2022,"month":1,"date":1,"utc":true},{"year":2022,"month":3,"date":1,"utc":true},{"year":2022,"month":5,"date":1,"utc":true},{"year":2022,"month":7,"date":1,"utc":true},{"year":2022,"month":9,"date":1,"utc":true},{"year":2022,"month":11,"date":1,"utc":true},{"year":2023,"month":1,"date":1,"utc":true},{"year":2023,"month":3,"date":1,"utc":true},{"year":2023,"month":5,"date":1,"utc":true},{"year":2023,"month":7,"date":1,"utc":true},{"year":2023,"month":9,"date":1,"utc":true},{"year":2023,"month":11,"date":1,"utc":true},{"year":2024,"month":1,"date":1,"utc":true},{"year":2024,"month":3,"date":1,"utc":true},{"year":2024,"month":5,"date":1,"utc":true},{"year":2024,"month":7,"date":1,"utc":true},{"year":2024,"month":9,"date":1,"utc":true},{"year":2024,"month":11,"date":1,"utc":true},{"year":2025,"month":1,"date":1,"utc":true},{"year":2025,"month":3,"date":1,"utc":true},{"year":2025,"month":5,"date":1,"utc":true},{"year":2025,"month":7,"date":1,"utc":true},{"year":2025,"month":9,"date":1,"utc":true},{"year":2025,"month":11,"date":1,"utc":true},{"year":2026,"month":1,"date":1,"utc":true},{"year":2026,"month":3,"date":1,"utc":true},{"year":2026,"month":5,"date":1,"utc":true}]}},
  "x2": {"field": "d2"}}},
{"data": {"name": "strip"}, "mark": {"type": "rect", "fill": "#ff8000", "stroke": "#a0a0a0", "strokeWidth": 1},
 "encoding": {"x": {"field": "d", "type": "temporal", "scale": {"type": "utc", "domain": [{"year":2019,"month":9,"date":18,"utc":true},{"year":2026,"month":6,"date":2,"utc":true}]},
   "axis": {"orient": "bottom", "grid": false, "ticks": false, "domain": false, "title": null, "zindex": 1, "labelPadding": 1, "labelFontSize": 10, "labelOverlap": false, "labelFlush": false,
   "labelExpr": "utcFormat(datum.value, '%m %y') == '01 20' ? 'I 20' : utcFormat(datum.value, '%m %y')",
   "values": [{"year":2020,"month":1,"date":1,"utc":true},{"year":2020,"month":3,"date":1,"utc":true},{"year":2020,"month":5,"date":1,"utc":true},{"year":2020,"month":7,"date":1,"utc":true},{"year":2020,"month":9,"date":1,"utc":true},{"year":2020,"month":11,"date":1,"utc":true},{"year":2021,"month":1,"date":1,"utc":true},{"year":2021,"month":3,"date":1,"utc":true},{"year":2021,"month":5,"date":1,"utc":true},{"year":2021,"month":7,"date":1,"utc":true},{"year":2021,"month":9,"date":1,"utc":true},{"year":2021,"month":11,"date":1,"utc":true},{"year":2022,"month":1,"date":1,"utc":true},{"year":2022,"month":3,"date":1,"utc":true},{"year":2022,"month":5,"date":1,"utc":true},{"year":2022,"month":7,"date":1,"utc":true},{"year":2022,"month":9,"date":1,"utc":true},{"year":2022,"month":11,"date":1,"utc":true},{"year":2023,"month":1,"date":1,"utc":true},{"year":2023,"month":3,"date":1,"utc":true},{"year":2023,"month":5,"date":1,"utc":true},{"year":2023,"month":7,"date":1,"utc":true},{"year":2023,"month":9,"date":1,"utc":true},{"year":2023,"month":11,"date":1,"utc":true},{"year":2024,"month":1,"date":1,"utc":true},{"year":2024,"month":3,"date":1,"utc":true},{"year":2024,"month":5,"date":1,"utc":true},{"year":2024,"month":7,"date":1,"utc":true},{"year":2024,"month":9,"date":1,"utc":true},{"year":2024,"month":11,"date":1,"utc":true},{"year":2025,"month":1,"date":1,"utc":true},{"year":2025,"month":3,"date":1,"utc":true},{"year":2025,"month":5,"date":1,"utc":true},{"year":2025,"month":7,"date":1,"utc":true},{"year":2025,"month":9,"date":1,"utc":true},{"year":2025,"month":11,"date":1,"utc":true},{"year":2026,"month":1,"date":1,"utc":true},{"year":2026,"month":3,"date":1,"utc":true}]}},
  "x2": {"field": "d2"},
  "y": {"field": "p", "type": "quantitative", "scale": {"domain": [1405, 5613], "zero": false, "nice": false},
   "axis": {"orient": "right", "grid": true, "gridColor": "#b4f0b4", "gridDash": [4,3], "gridWidth": 1, "ticks": false, "domain": false, "labelPadding": 5, "labelFontSize": 11, "labelBaseline": "middle", "format": ".2f", "title": null, "zindex": 0,
   "values": [1500,1750,2000,2250,2500,2750,3000,3250,3500,3750,4000,4250,4500,4750,5000,5250,5500]}},
  "y2": {"field": "p2"}}},
{"data": {"name": "lines"}, "transform": [{"filter": "datum.t == 'reddot'"}], "mark": {"type": "line", "stroke": "#ff6464", "strokeWidth": 1.5, "strokeDash": [3,3]},
 "encoding": {"x": {"field": "d", "type": "temporal", "scale": {"type": "utc", "domain": [{"year":2019,"month":9,"date":18,"utc":true},{"year":2026,"month":6,"date":2,"utc":true}]}, "axis": null},
  "y": {"field": "p", "type": "quantitative", "scale": {"domain": [1405, 5613], "zero": false, "nice": false}, "axis": null}, "detail": {"field": "g"}}},
{"data": {"name": "lines"}, "transform": [{"filter": "datum.t == 'bluedot'"}], "mark": {"type": "line", "stroke": "#0000ff", "strokeWidth": 1.5, "strokeDash": [3,3]},
 "encoding": {"x": {"field": "d", "type": "temporal", "scale": {"type": "utc", "domain": [{"year":2019,"month":9,"date":18,"utc":true},{"year":2026,"month":6,"date":2,"utc":true}]}, "axis": null},
  "y": {"field": "p", "type": "quantitative", "scale": {"domain": [1405, 5613], "zero": false, "nice": false}, "axis": null}, "detail": {"field": "g"}}},
{"data": {"name": "lines"}, "transform": [{"filter": "datum.t == 'limedash'"}], "mark": {"type": "line", "stroke": "#1ed21e", "strokeWidth": 1, "strokeDash": [4,3]},
 "encoding": {"x": {"field": "d", "type": "temporal", "scale": {"type": "utc", "domain": [{"year":2019,"month":9,"date":18,"utc":true},{"year":2026,"month":6,"date":2,"utc":true}]}, "axis": null},
  "y": {"field": "p", "type": "quantitative", "scale": {"domain": [1405, 5613], "zero": false, "nice": false}, "axis": null}, "detail": {"field": "g"}}},
{"data": {"name": "lines"}, "transform": [{"filter": "datum.t == 'lime'"}], "mark": {"type": "line", "stroke": "#2ee62e", "strokeWidth": 1.5},
 "encoding": {"x": {"field": "d", "type": "temporal", "scale": {"type": "utc", "domain": [{"year":2019,"month":9,"date":18,"utc":true},{"year":2026,"month":6,"date":2,"utc":true}]}, "axis": null},
  "y": {"field": "p", "type": "quantitative", "scale": {"domain": [1405, 5613], "zero": false, "nice": false}, "axis": null}, "detail": {"field": "g"}}},
{"data": {"name": "candles"}, "mark": {"type": "rule", "strokeWidth": 1},
 "encoding": {"x": {"field": "d", "type": "temporal", "scale": {"type": "utc", "domain": [{"year":2019,"month":9,"date":18,"utc":true},{"year":2026,"month":6,"date":2,"utc":true}]}, "axis": null},
  "y": {"field": "l", "type": "quantitative", "scale": {"domain": [1405, 5613], "zero": false, "nice": false}, "axis": null},
  "y2": {"field": "h"},
  "stroke": {"condition": {"test": "datum.c < datum.o", "value": "#ff0000"}, "value": "#000000"}}},
{"data": {"name": "candles"}, "mark": {"type": "bar", "width": 4, "fill": "#ffffff", "strokeWidth": 1.2},
 "encoding": {"x": {"field": "d", "type": "temporal", "scale": {"type": "utc", "domain": [{"year":2019,"month":9,"date":18,"utc":true},{"year":2026,"month":6,"date":2,"utc":true}]}, "axis": null},
  "y": {"field": "o", "type": "quantitative", "scale": {"domain": [1405, 5613], "zero": false, "nice": false}, "axis": null},
  "y2": {"field": "c"},
  "stroke": {"condition": {"test": "datum.c < datum.o", "value": "#ff0000"}, "value": "#000000"}}},
{"data": {"name": "lines"}, "transform": [{"filter": "datum.t == 'thin'"}], "mark": {"type": "line", "stroke": "#118a11", "strokeWidth": 1},
 "encoding": {"x": {"field": "d", "type": "temporal", "scale": {"type": "utc", "domain": [{"year":2019,"month":9,"date":18,"utc":true},{"year":2026,"month":6,"date":2,"utc":true}]}, "axis": null},
  "y": {"field": "p", "type": "quantitative", "scale": {"domain": [1405, 5613], "zero": false, "nice": false}, "axis": null}, "detail": {"field": "g"}}},
{"data": {"name": "lines"}, "transform": [{"filter": "datum.t == 'teal'"}], "mark": {"type": "line", "stroke": "#1f8c9e", "strokeWidth": 1},
 "encoding": {"x": {"field": "d", "type": "temporal", "scale": {"type": "utc", "domain": [{"year":2019,"month":9,"date":18,"utc":true},{"year":2026,"month":6,"date":2,"utc":true}]}, "axis": null},
  "y": {"field": "p", "type": "quantitative", "scale": {"domain": [1405, 5613], "zero": false, "nice": false}, "axis": null}, "detail": {"field": "g"}}},
{"data": {"name": "lines"}, "transform": [{"filter": "datum.t == 'thick'"}], "mark": {"type": "line", "stroke": "#087808", "strokeWidth": 3},
 "encoding": {"x": {"field": "d", "type": "temporal", "scale": {"type": "utc", "domain": [{"year":2019,"month":9,"date":18,"utc":true},{"year":2026,"month":6,"date":2,"utc":true}]}, "axis": null},
  "y": {"field": "p", "type": "quantitative", "scale": {"domain": [1405, 5613], "zero": false, "nice": false}, "axis": null}, "detail": {"field": "g"}}},
{"data": {"name": "hr"}, "mark": {"type": "rule", "stroke": "#b4f0b4", "strokeWidth": 1},
 "encoding": {"x": {"field": "d", "type": "temporal", "scale": {"type": "utc", "domain": [{"year":2019,"month":9,"date":18,"utc":true},{"year":2026,"month":6,"date":2,"utc":true}]}, "axis": null},
  "x2": {"field": "d2"},
  "y": {"field": "p", "type": "quantitative", "scale": {"domain": [1405, 5613], "zero": false, "nice": false}, "axis": null},
  "y2": {"field": "p2"}}},
{"data": {"name": "box"}, "mark": {"type": "rect", "fill": "#0000ff"},
 "encoding": {"x": {"field": "d", "type": "temporal", "scale": {"type": "utc", "domain": [{"year":2019,"month":9,"date":18,"utc":true},{"year":2026,"month":6,"date":2,"utc":true}]}, "axis": null},
  "x2": {"field": "d2"},
  "y": {"field": "p", "type": "quantitative", "scale": {"domain": [1405, 5613], "zero": false, "nice": false}, "axis": null},
  "y2": {"field": "p2"}}},
{"data": {"name": "notes"}, "transform": [{"filter": "datum.k == 'disc'"}], "mark": {"type": "text", "align": "left", "baseline": "middle", "font": "Liberation Serif", "fontSize": 10.15, "color": "#000000"},
 "encoding": {"x": {"field": "d", "type": "temporal", "scale": {"type": "utc", "domain": [{"year":2019,"month":9,"date":18,"utc":true},{"year":2026,"month":6,"date":2,"utc":true}]}, "axis": null},
  "y": {"field": "p", "type": "quantitative", "scale": {"domain": [1405, 5613], "zero": false, "nice": false}, "axis": null}, "text": {"field": "txt"}}},
{"data": {"name": "notes"}, "transform": [{"filter": "datum.k == 'big'"}], "mark": {"type": "text", "align": "center", "baseline": "middle", "font": "Liberation Sans", "fontWeight": "bold", "fontSize": 15, "color": "#000000"},
 "encoding": {"x": {"field": "d", "type": "temporal", "scale": {"type": "utc", "domain": [{"year":2019,"month":9,"date":18,"utc":true},{"year":2026,"month":6,"date":2,"utc":true}]}, "axis": null},
  "y": {"field": "p", "type": "quantitative", "scale": {"domain": [1405, 5613], "zero": false, "nice": false}, "axis": null}, "text": {"field": "txt"}}},
{"data": {"name": "notes"}, "transform": [{"filter": "datum.k == 'hl'"}], "mark": {"type": "text", "align": "left", "baseline": "middle", "font": "Liberation Sans", "fontSize": 10.5, "color": "#000000"},
 "encoding": {"x": {"field": "d", "type": "temporal", "scale": {"type": "utc", "domain": [{"year":2019,"month":9,"date":18,"utc":true},{"year":2026,"month":6,"date":2,"utc":true}]}, "axis": null},
  "y": {"field": "p", "type": "quantitative", "scale": {"domain": [1405, 5613], "zero": false, "nice": false}, "axis": null}, "text": {"field": "txt"}}},
{"data": {"name": "notes"}, "transform": [{"filter": "datum.k == 'hc'"}], "mark": {"type": "text", "align": "center", "baseline": "middle", "font": "Liberation Sans", "fontSize": 10.5, "color": "#000000"},
 "encoding": {"x": {"field": "d", "type": "temporal", "scale": {"type": "utc", "domain": [{"year":2019,"month":9,"date":18,"utc":true},{"year":2026,"month":6,"date":2,"utc":true}]}, "axis": null},
  "y": {"field": "p", "type": "quantitative", "scale": {"domain": [1405, 5613], "zero": false, "nice": false}, "axis": null}, "text": {"field": "txt"}}},
{"data": {"name": "notes"}, "transform": [{"filter": "datum.k == 'ht'"}], "mark": {"type": "text", "align": "left", "baseline": "middle", "font": "Liberation Sans", "fontWeight": "bold", "fontSize": 13, "color": "#000000"},
 "encoding": {"x": {"field": "d", "type": "temporal", "scale": {"type": "utc", "domain": [{"year":2019,"month":9,"date":18,"utc":true},{"year":2026,"month":6,"date":2,"utc":true}]}, "axis": null},
  "y": {"field": "p", "type": "quantitative", "scale": {"domain": [1405, 5613], "zero": false, "nice": false}, "axis": null}, "text": {"field": "txt"}}},
{"data": {"name": "notes"}, "transform": [{"filter": "datum.k == 'ax'"}], "mark": {"type": "text", "align": "center", "baseline": "middle", "font": "Liberation Sans", "fontSize": 10, "color": "#000000"},
 "encoding": {"x": {"field": "d", "type": "temporal", "scale": {"type": "utc", "domain": [{"year":2019,"month":9,"date":18,"utc":true},{"year":2026,"month":6,"date":2,"utc":true}]}, "axis": null},
  "y": {"field": "p", "type": "quantitative", "scale": {"domain": [1405, 5613], "zero": false, "nice": false}, "axis": null}, "text": {"field": "txt"}}},
{"data": {"name": "notes"}, "transform": [{"filter": "datum.k == 'icon'"}], "mark": {"type": "text", "align": "center", "baseline": "middle", "font": "DejaVu Sans", "fontSize": 11, "color": "#9ee89e"},
 "encoding": {"x": {"field": "d", "type": "temporal", "scale": {"type": "utc", "domain": [{"year":2019,"month":9,"date":18,"utc":true},{"year":2026,"month":6,"date":2,"utc":true}]}, "axis": null},
  "y": {"field": "p", "type": "quantitative", "scale": {"domain": [1405, 5613], "zero": false, "nice": false}, "axis": null}, "text": {"field": "txt"}}},
{"data": {"name": "notes"}, "transform": [{"filter": "datum.k == 'blue'"}], "mark": {"type": "text", "align": "left", "baseline": "middle", "font": "Liberation Sans", "fontSize": 11, "color": "#ffffff"},
 "encoding": {"x": {"field": "d", "type": "temporal", "scale": {"type": "utc", "domain": [{"year":2019,"month":9,"date":18,"utc":true},{"year":2026,"month":6,"date":2,"utc":true}]}, "axis": null},
  "y": {"field": "p", "type": "quantitative", "scale": {"domain": [1405, 5613], "zero": false, "nice": false}, "axis": null}, "text": {"field": "txt"}}}
]
}
